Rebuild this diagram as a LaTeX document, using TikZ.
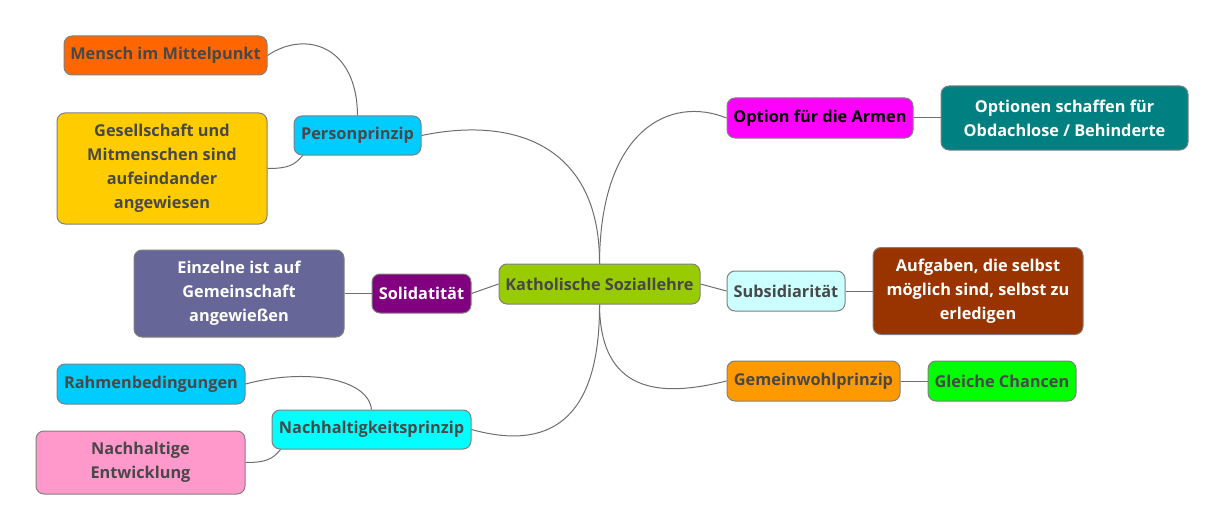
\documentclass[tikz,border=0pt]{standalone}
\usepackage{fontspec}
\setmainfont{Open Sans}
\usepackage{tikz}
\usetikzlibrary{positioning}

\definecolor{txtgray}{HTML}{484848}
\definecolor{boxgray}{HTML}{808080}
\definecolor{linkgray}{HTML}{6E6E6E}
\definecolor{cOrange}{HTML}{FF6600}
\definecolor{cSky}{HTML}{00CCFF}
\definecolor{cGold}{HTML}{FFCC00}
\definecolor{cLime}{HTML}{99CC00}
\definecolor{cPurple}{HTML}{800080}
\definecolor{cSlate}{HTML}{666699}
\definecolor{cCyan}{HTML}{00FFFF}
\definecolor{cPink}{HTML}{FF99CC}
\definecolor{cMagenta}{HTML}{FF00FF}
\definecolor{cTeal}{HTML}{008080}
\definecolor{cIce}{HTML}{CCFFFF}
\definecolor{cBrown}{HTML}{993300}
\definecolor{cAmber}{HTML}{FF9900}
\definecolor{cGreen}{HTML}{00FF00}

\begin{document}
\begin{tikzpicture}[
    x=1pt, y=-1pt,
    topic node/.style = {
        rectangle,
        rounded corners=8pt,
        draw=boxgray,
        line width=1pt,
        fill=#1,
        text=txtgray,
        font=\bfseries\fontsize{16.3}{24}\selectfont,
        align=center,
        inner sep=0pt
    },
    link/.style = {draw=linkgray, line width=1pt}
]
\useasboundingbox (0,0) rectangle (1225,532);

% centre
\node [topic node=cLime, minimum width=201, minimum height=40] (root) at (599.5,284) {Katholische Soziallehre};

% left side
\node [topic node=cSky, minimum width=127, minimum height=39] (pers) at (357.5,135.5) {Personprinzip};
\node [topic node=cOrange, minimum width=203, minimum height=39] (mensch) at (165.5,55.5) {Mensch im Mittelpunkt};
\node [topic node=cGold, minimum width=210, minimum height=111] (gesell) at (162,168.5) {Gesellschaft und\\Mitmenschen sind\\aufeindander\\angewiesen};

\node [topic node=cPurple, text=white, minimum width=99, minimum height=39] (soli) at (421.5,293.5) {Solidatität};
\node [topic node=cSlate, text=white, minimum width=210, minimum height=87, left=27pt of soli] (einzeln) {Einzelne ist auf\\Gemeinschaft\\angewießen};

\node [topic node=cCyan, minimum width=199, minimum height=39] (nach) at (371.5,429.5) {Nachhaltigkeitsprinzip};
\node [topic node=cSky, minimum width=188, minimum height=40] (rahmen) at (151,384) {Rahmenbedingungen};
\node [topic node=cPink, minimum width=209, minimum height=63] (entw) at (140.5,462.5) {Nachhaltige\\Entwicklung};

% right side
\node [topic node=cMagenta, text=black, minimum width=186, minimum height=40] (armen) at (820,118) {Option für die Armen};
\node [topic node=cTeal, text=white, minimum width=247, minimum height=64, right=27pt of armen] (schaffen) {Optionen schaffen für\\Obdachlose / Behinderte};

\node [topic node=cIce, minimum width=118, minimum height=40] (subs) at (786,291) {Subsidiarität};
\node [topic node=cBrown, text=white, minimum width=210, minimum height=87, right=27pt of subs] (aufg) {Aufgaben, die selbst\\möglich sind, selbst zu\\erledigen};

\node [topic node=cAmber, minimum width=173, minimum height=40] (gemein) at (813.5,381) {Gemeinwohlprinzip};
\node [topic node=cGreen, minimum width=148, minimum height=40, right=27pt of gemein] (chancen) {Gleiche Chancen};

% links from the centre
\draw[link] (root.north) .. controls (600,150) and (520,115) .. (pers.east);
\draw[link] (root.north) .. controls (600,130) and (670,95) .. (armen.west);
\draw[link] (root.west) -- (soli.east);
\draw[link] (root.east) -- (subs.west);
\draw[link] (root.south) .. controls (600,400) and (670,395) .. (gemein.west);
\draw[link] (root.south) .. controls (600,425) and (545,450) .. (nach.east);

% links to the leaves
\draw[link] (pers.north) .. controls (357,45) and (305,30) .. (mensch.east);
\draw[link] ([xshift=9]pers.south west) .. controls +(-8,10) and +(20,0) .. (gesell.east);
\draw[link] (soli.west) -- (einzeln.east);
\draw[link] (nach.north) .. controls (368,378) and (305,368) .. (rahmen.east);
\draw[link] ([xshift=9]nach.south west) .. controls +(-8,10) and +(20,0) .. (entw.east);
\draw[link] (armen.east) -- (schaffen.west);
\draw[link] (subs.east) -- (aufg.west);
\draw[link] (gemein.east) -- (chancen.west);

\end{tikzpicture}
\end{document}
